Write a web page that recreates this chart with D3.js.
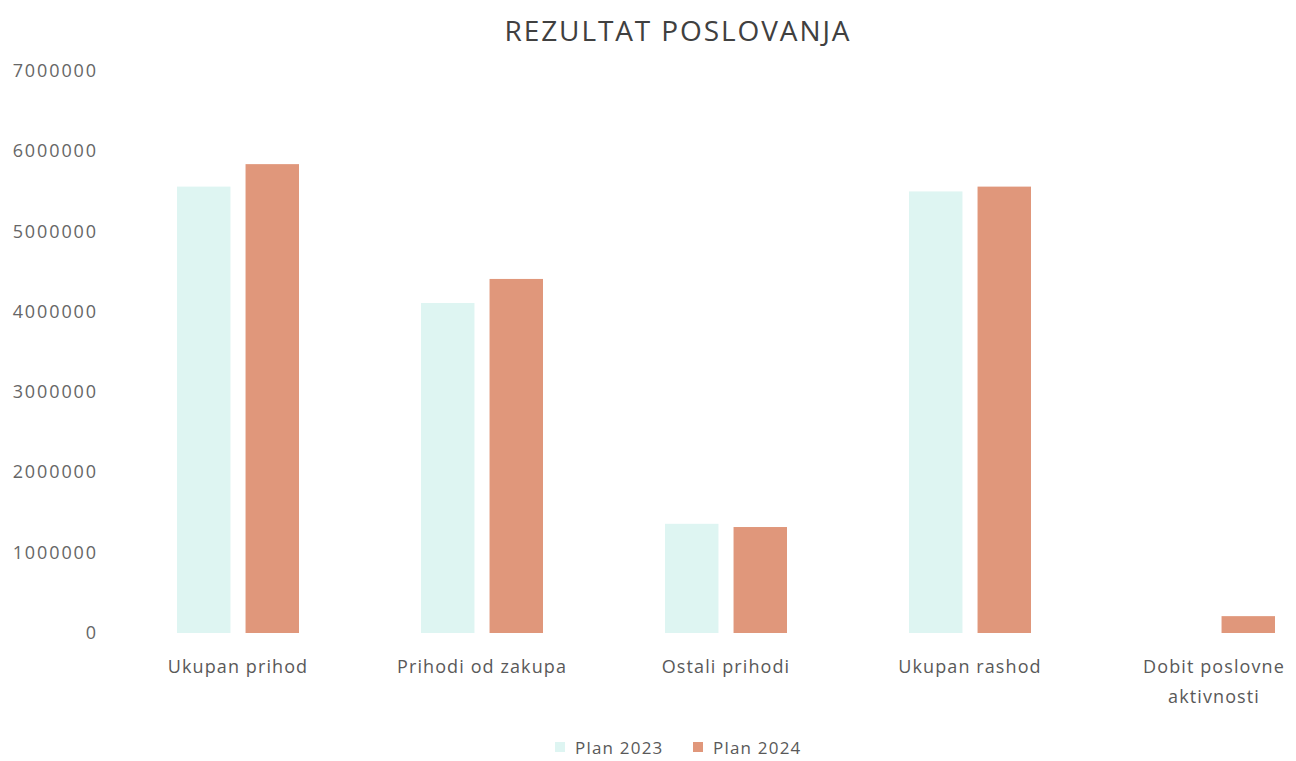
<!DOCTYPE html>
<html>
<head>
<meta charset="utf-8">
<script src="https://cdn.jsdelivr.net/npm/d3@7"></script>
<style>
  body { margin: 0; background: #fff; }
  svg text { font-family: 'Open Sans', sans-serif; fill: #595959; }
</style>
</head>
<body>
<svg class="chart" width="1296" height="761"></svg>
<script>
const categories = [
  ['Ukupan prihod'],
  ['Prihodi od zakupa'],
  ['Ostali prihodi'],
  ['Ukupan rashod'],
  ['Dobit poslovne', 'aktivnosti']
];
const seriesNames = ['Plan 2023', 'Plan 2024'];
const plan2023 = [5560000, 4110000, 1360000, 5500000, 0];
const plan2024 = [5840000, 4410000, 1320000, 5560000, 210000];
const yTickValues = [0, 1000000, 2000000, 3000000, 4000000, 5000000, 6000000, 7000000];
const colors = ['#def5f2', '#e0977b'];

const svg = d3.select('.chart');

const xScale = d3.scaleBand()
  .domain(d3.range(categories.length))
  .range([116, 1336])
  .paddingInner(0.5)
  .paddingOuter(0.25);

const xInner = d3.scaleBand()
  .domain(seriesNames)
  .range([0, xScale.bandwidth()])
  .paddingInner(0.22);

const yScale = d3.scaleLinear()
  .domain([0, 7000000])
  .range([633, 71]);

// title
svg.append('text')
  .attr('x', 678)
  .attr('y', 41)
  .attr('text-anchor', 'middle')
  .style('font-size', '28px')
  .style('letter-spacing', '1.9px')
  .style('fill', '#404040')
  .text('REZULTAT POSLOVANJA');

/*
 ** Y-axis
 */
svg.append('g')
  .selectAll('text.y-tick')
  .data(yTickValues)
  .enter()
  .append('text')
  .attr('class', 'y-tick')
  .attr('x', 98)
  .attr('y', d => yScale(d) + 6)
  .attr('text-anchor', 'end')
  .style('font-size', '18px')
  .style('letter-spacing', '1.9px')
  .style('fill', '#666')
  .text(d => d);

/*
 ** Bars
 */
const groups = svg.append('g')
  .selectAll('g.bar-group')
  .data(categories.map((c, i) => i))
  .enter()
  .append('g')
  .attr('class', 'bar-group')
  .attr('transform', i => `translate(${xScale(i)}, 0)`);

groups.selectAll('rect.bar')
  .data(i => [plan2023[i], plan2024[i]].map((v, k) => ({ series: seriesNames[k], value: v, k })))
  .enter()
  .append('rect')
  .attr('class', 'bar')
  .attr('x', d => xInner(d.series))
  .attr('y', d => yScale(d.value))
  .attr('width', xInner.bandwidth())
  .attr('height', d => yScale(0) - yScale(d.value))
  .attr('fill', d => colors[d.k]);

/*
 ** X labels
 */
groups.append('text')
  .attr('text-anchor', 'middle')
  .attr('x', xScale.bandwidth() / 2)
  .style('font-size', '18px')
  .style('letter-spacing', '1.1px')
  .selectAll('tspan')
  .data(i => categories[i])
  .enter()
  .append('tspan')
  .attr('x', xScale.bandwidth() / 2)
  .attr('y', (d, j) => 673 + j * 30)
  .text(d => d);

/*
 ** Legend
 */
const legend = svg.append('g')
  .selectAll('g.legend-item')
  .data(seriesNames)
  .enter()
  .append('g')
  .attr('class', 'legend-item')
  .attr('transform', (d, i) => `translate(${555 + i * 138}, 0)`);

legend.append('rect')
  .attr('y', 742)
  .attr('width', 10)
  .attr('height', 10)
  .attr('fill', (d, i) => colors[i]);

legend.append('text')
  .attr('x', 20)
  .attr('y', 754)
  .style('font-size', '17px')
  .style('letter-spacing', '1.2px')
  .text(d => d);
</script>
</body>
</html>
